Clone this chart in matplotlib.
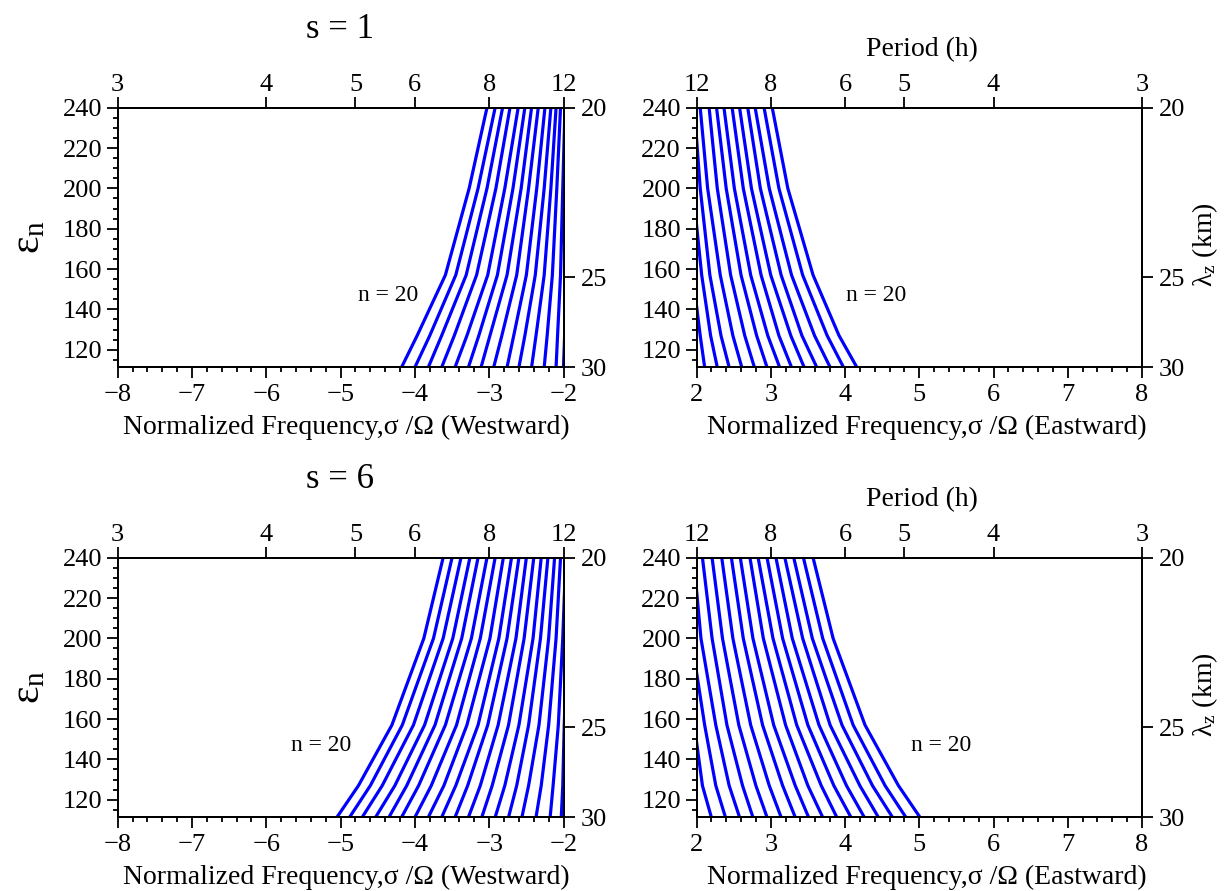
import matplotlib
matplotlib.use('Agg')
import matplotlib.pyplot as plt
from matplotlib.ticker import MultipleLocator

plt.rcParams['font.family'] = ['Liberation Serif', 'DejaVu Serif']
plt.rcParams['mathtext.fontset'] = 'custom'
plt.rcParams['mathtext.rm'] = 'Liberation Serif'
plt.rcParams['mathtext.it'] = 'Liberation Serif:italic'

# eps_n levels where the curves were evaluated (lambda_z = 20, 22, 25, 28, 30 km)
eps_levels = [240, 200, 157, 127, 111.3]

# right axis: vertical wavelength ticks and their eps_n positions
lambda_ticks = [20, 25, 30]
lambda_eps = [240, 156, 111.3]

# top axis: period ticks (h)
period_ticks = [3, 4, 5, 6, 8, 12]

# each row: sigma/Omega at eps_levels, one row per curve
west_s1 = [
    [-3.03, -3.27, -3.59, -3.97, -4.18],
    [-2.92, -3.15, -3.45, -3.80, -4.00],
    [-2.82, -3.03, -3.31, -3.64, -3.82],
    [-2.72, -2.91, -3.17, -3.47, -3.64],
    [-2.61, -2.79, -3.02, -3.30, -3.46],
    [-2.52, -2.68, -2.89, -3.14, -3.28],
    [-2.43, -2.57, -2.76, -2.99, -3.11],
    [-2.34, -2.47, -2.63, -2.83, -2.94],
    [-2.25, -2.36, -2.50, -2.67, -2.76],
    [-2.17, -2.26, -2.38, -2.52, -2.60],
    [-2.10, -2.17, -2.26, -2.37, -2.43],
    [-2.04, -2.09, -2.15, -2.22, -2.26],
    [-1.98, -2.01, -2.04, -2.08, -2.10],
    [-1.90, -1.93, -1.96, -1.985, -2.00],
]

east_s1 = [
    [3.02, 3.23, 3.57, 3.92, 4.16],
    [2.91, 3.11, 3.43, 3.76, 3.98],
    [2.79, 2.98, 3.28, 3.59, 3.80],
    [2.69, 2.86, 3.14, 3.42, 3.62],
    [2.58, 2.74, 3.00, 3.27, 3.45],
    [2.48, 2.63, 2.87, 3.11, 3.28],
    [2.37, 2.51, 2.73, 2.96, 3.12],
    [2.27, 2.40, 2.60, 2.81, 2.95],
    [2.17, 2.28, 2.46, 2.65, 2.78],
    [2.05, 2.15, 2.32, 2.49, 2.61],
    [1.97, 2.05, 2.18, 2.33, 2.44],
    [1.88, 1.95, 2.07, 2.19, 2.28],
    [1.78, 1.85, 1.95, 2.05, 2.11],
]

west_s6 = [
    [-3.62, -3.88, -4.31, -4.76, -5.05],
    [-3.50, -3.75, -4.17, -4.60, -4.88],
    [-3.38, -3.62, -4.02, -4.44, -4.71],
    [-3.26, -3.49, -3.87, -4.27, -4.53],
    [-3.15, -3.37, -3.73, -4.11, -4.35],
    [-3.03, -3.24, -3.59, -3.95, -4.18],
    [-2.92, -3.12, -3.44, -3.78, -4.00],
    [-2.81, -2.99, -3.30, -3.61, -3.82],
    [-2.70, -2.87, -3.15, -3.45, -3.64],
    [-2.60, -2.76, -3.02, -3.29, -3.46],
    [-2.50, -2.64, -2.88, -3.12, -3.28],
    [-2.40, -2.53, -2.74, -2.96, -3.10],
    [-2.30, -2.41, -2.60, -2.79, -2.92],
    [-2.21, -2.31, -2.47, -2.63, -2.74],
    [-2.12, -2.20, -2.33, -2.47, -2.56],
    [-2.04, -2.10, -2.20, -2.30, -2.37],
    [-1.97, -2.01, -2.07, -2.14, -2.18],
    [-1.90, -1.95, -1.99, -2.01, -2.03],
]

east_s6 = [
    [3.57, 3.84, 4.27, 4.72, 5.01],
    [3.44, 3.70, 4.11, 4.54, 4.82],
    [3.31, 3.56, 3.96, 4.37, 4.64],
    [3.19, 3.43, 3.80, 4.20, 4.45],
    [3.07, 3.29, 3.65, 4.02, 4.26],
    [2.95, 3.16, 3.50, 3.85, 4.08],
    [2.83, 3.03, 3.35, 3.68, 3.89],
    [2.72, 2.90, 3.20, 3.50, 3.70],
    [2.59, 2.76, 3.04, 3.33, 3.51],
    [2.47, 2.63, 2.89, 3.16, 3.33],
    [2.34, 2.49, 2.73, 2.98, 3.14],
    [2.21, 2.35, 2.57, 2.80, 2.95],
    [2.08, 2.21, 2.41, 2.62, 2.76],
    [1.96, 2.06, 2.26, 2.44, 2.58],
    [1.84, 1.93, 2.11, 2.26, 2.39],
    [1.74, 1.82, 1.97, 2.08, 2.20],
]

label_pos = {'west_s1': -4.36, 'east_s1': 4.42, 'west_s6': -5.26, 'east_s6': 5.29}

W, H = 1225, 891
fig = plt.figure(figsize=(W / 100, H / 100), dpi=100)

TICK = 19
LABEL = 20
LW = 1.3


def px_box(left, top, right, bottom):
    return [left / W, 1 - bottom / H, (right - left) / W, (bottom - top) / H]


def draw_panel(box, curves, xlim, lab_x):
    ax = fig.add_axes(box)
    for c in curves:
        ax.plot(c, eps_levels, color='#0000ff', lw=2.3)
    ax.set_xlim(xlim)
    ax.set_ylim(eps_levels[-1], eps_levels[0])
    ax.xaxis.set_major_locator(MultipleLocator(1))
    ax.xaxis.set_minor_locator(MultipleLocator(0.2))
    ax.yaxis.set_major_locator(MultipleLocator(20))
    ax.yaxis.set_minor_locator(MultipleLocator(5))
    ax.tick_params(which='major', direction='out', length=7.7, width=LW,
                   labelsize=TICK, pad=3.5)
    ax.tick_params(which='minor', direction='out', length=3.6, width=LW)
    ax.tick_params(axis='x', which='major', pad=4)
    for sp in ax.spines.values():
        sp.set_linewidth(LW)
    ax.text(lab_x, 147, 'n = 20', fontsize=17, ha='center', va='center')

    # period axis on top
    axt = ax.twiny()
    axt.set_xlim(xlim)
    sign = -1 if xlim[0] < 0 else 1
    axt.set_xticks([sign * 24 / p for p in period_ticks])
    axt.set_xticklabels([str(p) for p in period_ticks])
    axt.tick_params(direction='out', length=7.7, width=LW, labelsize=TICK, pad=1)

    # vertical wavelength axis on right
    axr = ax.twinx()
    axr.set_ylim(ax.get_ylim())
    axr.set_yticks(lambda_eps)
    axr.set_yticklabels([str(v) for v in lambda_ticks])
    axr.tick_params(direction='out', length=7.7, width=LW, labelsize=TICK, pad=4.5)
    for a in (axt, axr):
        for sp in a.spines.values():
            sp.set_linewidth(LW)
    return ax


for row, (top, wcur, ecur, s) in enumerate([(107.7, west_s1, east_s1, 1),
                                            (557.7, west_s6, east_s6, 6)]):
    bot = top + 259.6
    off = row * 450
    draw_panel(px_box(117.7, top, 563.5, bot), wcur, (-8, -2),
               label_pos['west_s%d' % s])
    draw_panel(px_box(696.5, top, 1142, bot), ecur, (2, 8),
               label_pos['east_s%d' % s])

    fig.text(340 / W, 1 - (30 + off) / H, 's = %d' % s, fontsize=25,
             ha='center', va='center')
    fig.text(922 / W, 1 - (50 + off) / H, 'Period (h)', fontsize=LABEL,
             ha='center', va='center')
    fig.text(346 / W, 1 - (427 + off) / H,
             'Normalized Frequency,σ /Ω (Westward)', fontsize=LABEL,
             ha='center', va='center')
    fig.text(927 / W, 1 - (427 + off) / H,
             'Normalized Frequency,σ /Ω (Eastward)', fontsize=LABEL,
             ha='center', va='center')
    fig.text(29 / W, 1 - (237 + off) / H, r'$\mathregular{ε_n}$', fontsize=30,
             rotation=90, ha='center', va='center')
    fig.text(1205 / W, 1 - (245 + off) / H, r'$\mathregular{λ_z}$ (km)',
             fontsize=LABEL, rotation=90, ha='center', va='center')

fig.savefig('out.png', dpi=100)
